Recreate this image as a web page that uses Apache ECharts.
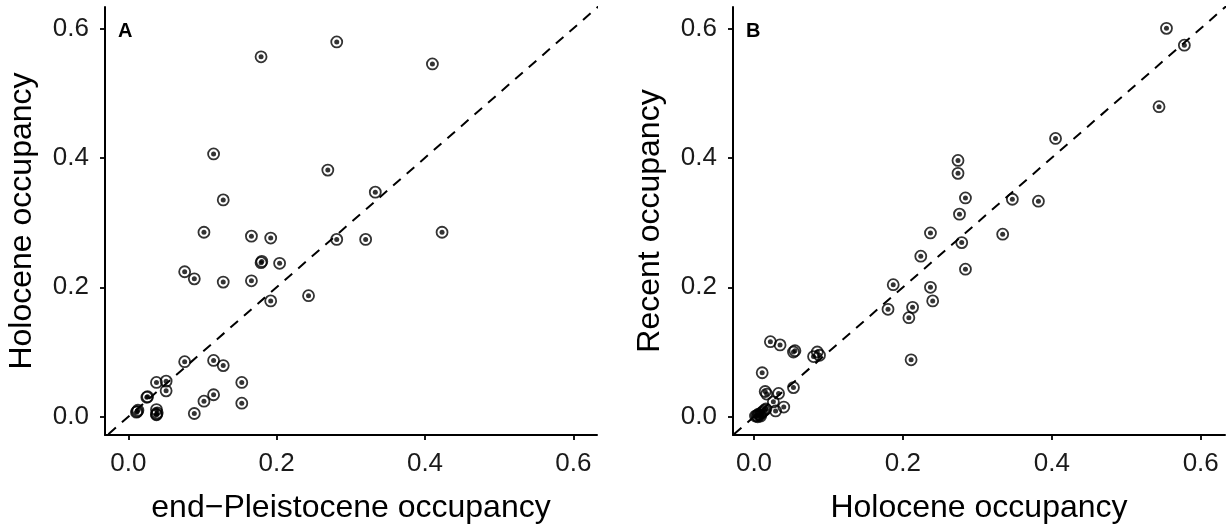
<!DOCTYPE html>
<html>
<head>
<meta charset="utf-8">
<script src="https://cdn.jsdelivr.net/npm/echarts@6/dist/echarts.min.js"></script>
<style>
  html, body { margin: 0; padding: 0; background: #fff; }
  #chart { width: 1231px; height: 531px; }
</style>
</head>
<body>
<div id="chart"></div>
<script>
// ---- Data ----
// Panel A: end-Pleistocene occupancy (x) vs Holocene occupancy (y)
const pleistoceneA = [0.281, 0.179, 0.410, 0.115, 0.269, 0.333, 0.128, 0.102, 0.423, 0.166,
                      0.192, 0.281, 0.320, 0.179, 0.180, 0.204, 0.076, 0.089, 0.128, 0.166,
                      0.243, 0.192, 0.076, 0.115, 0.128, 0.153, 0.153, 0.115, 0.102, 0.089,
                      0.038, 0.051, 0.051, 0.025, 0.026, 0.012, 0.013, 0.011, 0.038, 0.038,
                      0.038, 0.039];
const holoceneA = [0.579, 0.556, 0.545, 0.406, 0.381, 0.347, 0.335, 0.285, 0.285, 0.279,
                   0.276, 0.274, 0.274, 0.238, 0.240, 0.237, 0.224, 0.213, 0.208, 0.210,
                   0.187, 0.179, 0.085, 0.087, 0.079, 0.053, 0.021, 0.034, 0.024, 0.005,
                   0.053, 0.055, 0.040, 0.030, 0.031, 0.008, 0.010, 0.007, 0.011, 0.003,
                   0.004, 0.006];

// Panel B: Holocene occupancy (x) vs Recent occupancy (y)
const holoceneB = [0.554, 0.578, 0.544, 0.405, 0.274, 0.274, 0.284, 0.347, 0.382, 0.276,
                   0.237, 0.334, 0.279, 0.224, 0.284, 0.187, 0.237, 0.240, 0.213, 0.180,
                   0.208, 0.211, 0.022, 0.035, 0.053, 0.055, 0.085, 0.088, 0.080, 0.011,
                   0.053, 0.015, 0.017, 0.033, 0.026, 0.040, 0.029, 0.002, 0.004, 0.006,
                   0.008, 0.010, 0.012, 0.014, 0.009, 0.016, 0.005];
const recentB = [0.600, 0.574, 0.479, 0.430, 0.396, 0.376, 0.338, 0.336, 0.333, 0.313,
                 0.284, 0.282, 0.269, 0.248, 0.228, 0.204, 0.200, 0.179, 0.169, 0.166,
                 0.153, 0.088, 0.116, 0.111, 0.100, 0.102, 0.100, 0.095, 0.093, 0.068,
                 0.045, 0.039, 0.035, 0.036, 0.023, 0.015, 0.009, 0.001, 0.002, 0.004,
                 0.003, 0.006, 0.008, 0.010, 0.001, 0.012, 0.000];

const tickValues = [0, 0.2, 0.4, 0.6];
const panelLabels = ['A', 'B'];
const xTitles = ['end\u2212Pleistocene occupancy', 'Holocene occupancy'];
const yTitles = ['Holocene occupancy', 'Recent occupancy'];
const identityLine = [[-0.1, -0.1], [0.8, 0.8]];

// ---- Build chart ----
const FONT = '"Liberation Sans", Arial, Helvetica, sans-serif';
const zip = (xs, ys) => xs.map((x, i) => [x, ys[i]]);
const dataA = zip(pleistoceneA, holoceneA);
const dataB = zip(holoceneB, recentB);

function xAxis(idx, min, max, title) {
  return {
    type: 'value', gridIndex: idx, min: min, max: max,
    splitLine: { show: false },
    axisLine: { show: true, onZero: false, lineStyle: { color: '#000', width: 2 } },
    axisTick: { show: true, inside: false, length: 5, customValues: tickValues, lineStyle: { color: '#000', width: 1.8 } },
    axisLabel: { show: true, customValues: tickValues, margin: 16, fontSize: 26, color: '#1a1a1a', fontFamily: FONT,
                 formatter: v => v.toFixed(1) },
    name: title, nameLocation: 'middle', nameGap: 57,
    nameTextStyle: { fontSize: 32, color: '#000', fontFamily: FONT }
  };
}
function yAxis(idx, min, max, title) {
  return {
    type: 'value', gridIndex: idx, min: min, max: max,
    splitLine: { show: false },
    axisLine: { show: true, onZero: false, lineStyle: { color: '#000', width: 2 } },
    axisTick: { show: true, inside: false, length: 5, customValues: tickValues, lineStyle: { color: '#000', width: 1.8 } },
    axisLabel: { show: true, customValues: tickValues, margin: 16, fontSize: 26, color: '#1a1a1a', fontFamily: FONT,
                 formatter: v => v.toFixed(1) },
    name: title, nameLocation: 'middle', nameGap: 67, nameRotate: 90,
    nameTextStyle: { fontSize: 32, color: '#000', fontFamily: FONT }
  };
}

function pointSeries(idx, data) {
  return [
    { type: 'scatter', xAxisIndex: idx, yAxisIndex: idx, data: data, symbol: 'circle', symbolSize: 11,
      itemStyle: { color: 'rgba(255,255,255,0)', borderColor: '#000', borderWidth: 1.8 },
      silent: true, z: 3 },
    { type: 'scatter', xAxisIndex: idx, yAxisIndex: idx, data: data, symbol: 'circle', symbolSize: 5,
      itemStyle: { color: '#000' }, silent: true, z: 4 }
  ];
}
function diagSeries(idx) {
  return { type: 'line', xAxisIndex: idx, yAxisIndex: idx, data: identityLine, showSymbol: false, clip: true,
           lineStyle: { color: '#000', width: 2, type: [10, 8] }, silent: true, z: 2 };
}

const chart = echarts.init(document.getElementById('chart'), null, { renderer: 'canvas' });
chart.setOption({
  animation: false,
  backgroundColor: '#fff',
  grid: [
    { left: 105, top: 7, width: 492, height: 428, containLabel: false, outerBoundsMode: 'none' },
    { left: 733, top: 7, width: 492, height: 428, containLabel: false, outerBoundsMode: 'none' }
  ],
  xAxis: [xAxis(0, -0.0314, 0.6319, xTitles[0]), xAxis(1, -0.0282, 0.6326, xTitles[1])],
  yAxis: [yAxis(0, -0.0282, 0.633, yTitles[0]), yAxis(1, -0.0282, 0.633, yTitles[1])],
  graphic: [
    { type: 'text', left: 118, top: 21, style: { text: panelLabels[0], font: 'bold 20px ' + FONT, fill: '#000' } },
    { type: 'text', left: 746, top: 21, style: { text: panelLabels[1], font: 'bold 20px ' + FONT, fill: '#000' } }
  ],
  series: [
    diagSeries(0), ...pointSeries(0, dataA),
    diagSeries(1), ...pointSeries(1, dataB)
  ]
});
</script>
</body>
</html>
